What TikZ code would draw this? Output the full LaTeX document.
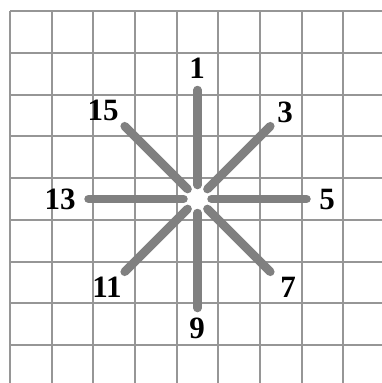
\documentclass[tikz,border=0pt]{standalone}
\usepackage{fontspec}
\setmainfont{Liberation Serif}
\definecolor{gridgray}{RGB}{150,150,150}
\definecolor{raygray}{RGB}{128,128,128}
\begin{document}
\begin{tikzpicture}[x=1pt,y=-1pt,
  gridline/.style={draw=gridgray,line width=2pt},
  ray/.style={draw=raygray,line width=8.5pt,line cap=round},
  lbl/.style={inner sep=0pt,font=\fontsize{31}{31}\selectfont\bfseries}]
\useasboundingbox[fill=white] (0,0) rectangle (382,383);
\foreach \i in {0,...,8} {
  \draw[gridline] ({10+41.67*\i},11) -- ({10+41.67*\i},383);
  \draw[gridline] (10,{11+41.75*\i}) -- (382,{11+41.75*\i});
}
\coordinate (c) at (197.5,199);
\foreach \a/\r in {0/109,45/103,90/109,135/103,180/109,225/103,270/109,315/103} {
  \draw[ray] ({197.5+14*cos(\a)},{199-14*sin(\a)}) -- ({197.5+\r*cos(\a)},{199-\r*sin(\a)});
}
\node[lbl] (l1) at (197,68) {1};
\node[lbl] (l3) at (285,112) {3};
\node[lbl] (l5) at (327,199) {5};
\node[lbl] (l7) at (288,287) {7};
\node[lbl] (l9) at (197,328) {9};
\node[lbl] (l11) at (107,287) {11};
\node[lbl] (l13) at (60,199) {13};
\node[lbl] (l15) at (103,110) {15};
\end{tikzpicture}
\end{document}
